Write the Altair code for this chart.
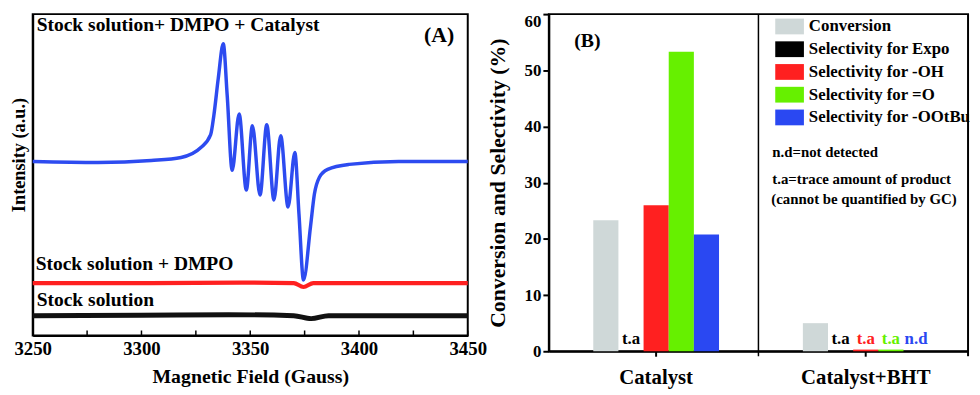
import altair as alt
import pandas as pd

FONT = "Liberation Serif"

# ---------------- Panel A: EPR spectra ----------------
a_names = ["Stock solution+ DMPO + Catalyst", "Stock solution + DMPO", "Stock solution"]
a_colors = ["#2d4bf0", "#ff2020", "#111111"]
a_widths = [3.5, 5, 5]

blue_field = [3250, 3280, 3304.5, 3318.2, 3327.3, 3331.8, 3333.3, 3335.3, 3337.6, 3339.4,
              3341.7, 3344.9, 3348.2, 3351.0, 3354.5, 3357.6, 3360.9, 3364.0, 3367.4, 3370.5,
              3372.4, 3374.5, 3377.7, 3379.5, 3381.8, 3385.6, 3395.5, 3418.2, 3450]
blue_int = [176, 175, 177, 180, 190, 203, 223, 260, 295, 243,
            167, 224, 147, 212, 142, 213, 137, 202, 130, 185,
            123, 56, 110, 143, 160, 168, 173, 176, 176]

red_field = [3250, 3300, 3350, 3370, 3374.5, 3379, 3400, 3450]
red_int = [53, 53, 53.5, 53, 49, 53, 53, 53]

black_field = [3250, 3300, 3340, 3370, 3378, 3386, 3420, 3450]
black_int = [20, 20.5, 21, 20, 17, 20, 20, 20]

a_ticks = [3250, 3300, 3350, 3400, 3450]
a_minor = [3250, 3275, 3300, 3325, 3350, 3375, 3400, 3425, 3450]

rows = []
for name, xs, ys in zip(a_names, [blue_field, red_field, black_field], [blue_int, red_int, black_int]):
    for xv, yv in zip(xs, ys):
        rows.append({"series": name, "field": xv, "intensity": yv})
dfA = pd.DataFrame(rows)

WA, HA = 440, 325

xscaleA = alt.Scale(domain=[3250, 3450], nice=False, zero=False)
xA = alt.X("field:Q", scale=xscaleA,
           axis=alt.Axis(values=a_ticks, format="d", tickSize=0, labelPadding=4,
                         labelFlush=False,
                         labelFont=FONT, labelFontWeight="bold", labelFontSize=19,
                         title="Magnetic Field (Gauss)", titleFont=FONT,
                         titleFontSize=20, titlePadding=9))
yA = alt.Y("intensity:Q", scale=alt.Scale(domain=[0, HA], nice=False),
           axis=alt.Axis(labels=False, ticks=False, title="Intensity (a.u.)",
                         titleFont=FONT, titlePadding=4, titleFontSize=18.5, titleY=142))

lines = alt.Chart(dfA).mark_line(interpolate="monotone").encode(
    x=xA, y=yA,
    color=alt.Color("series:N", sort=a_names, scale=alt.Scale(domain=a_names, range=a_colors), legend=None),
    strokeWidth=alt.StrokeWidth("series:N", scale=alt.Scale(domain=a_names, range=a_widths), legend=None),
    detail="series:N",
)

minor_ticks = alt.Chart(pd.DataFrame({"field": a_minor})).mark_rule(
    color="black", strokeWidth=1.5
).encode(x=alt.X("field:Q", scale=xscaleA), y=alt.value(HA - 5), y2=alt.value(HA))


def label(text, x, y, size=18, align="left", color="black"):
    return alt.Chart(pd.DataFrame({"t": [text]})).mark_text(
        align=align, baseline="middle", font=FONT, fontWeight="bold",
        fontSize=size, color=color
    ).encode(x=alt.value(x), y=alt.value(y), text="t:N")


panelA = alt.layer(
    lines, minor_ticks,
    label("Stock solution+ DMPO + Catalyst", 4, 11, 19.7),
    label("(A)", 411, 21, 22, align="center"),
    label("Stock solution + DMPO", 3, 253, 19.7),
    label("Stock solution", 4, 289, 19.7),
).properties(width=WA, height=HA)

# ---------------- Panel B: bars ----------------
cats = ["Catalyst", "Catalyst+BHT"]
series = ["Conversion", "Selectivity for Expo", "Selectivity for -OH",
          "Selectivity for =O", "Selectivity for -OOtBu"]
b_colors = ["#cfd8d8", "#000000", "#ff2020", "#66f000", "#2a48f2"]
vals_catalyst = [23.3, 0, 26.0, 53.3, 20.8]
vals_bht = [5.0, 0, 0.3, 0.3, 0]
notes_catalyst = ["", "t.a", "", "", ""]
notes_bht = ["", "t.a", "t.a", "t.a", "n.d"]

brows = []
for c, vals, notes in zip(cats, [vals_catalyst, vals_bht], [notes_catalyst, notes_bht]):
    for s, v, n in zip(series, vals, notes):
        brows.append({"cat": c, "series": s, "value": v, "note": n})
dfB = pd.DataFrame(brows)

WB, HB = 424, 341

xB = alt.X("cat:N", sort=cats, scale=alt.Scale(paddingInner=0.4, paddingOuter=0.2, align=0.53),
           axis=alt.Axis(title=None, labelAngle=0, labelFont=FONT, labelFontWeight="bold",
                         labelFontSize=21, tickSize=5, labelPadding=11))
xoffB = alt.XOffset("series:N", sort=series, scale=alt.Scale(paddingInner=0, paddingOuter=0))
yB = alt.Y("value:Q", scale=alt.Scale(domain=[0, 60], nice=False),
           axis=alt.Axis(values=list(range(0, 61, 5)),
                         labelExpr="datum.value % 10 == 0 ? datum.label : ''",
                         tickSize={"condition": {"test": "datum.value % 10 == 0", "value": 6}, "value": 3},
                         labelBaseline={"condition": {"test": "datum.value == 60", "value": "top"}, "value": "middle"},
                         labelFont=FONT, labelFontWeight="bold",
                         labelFontSize=17, labelPadding=2,
                         title="Conversion and Selectivity (%)", titleFont=FONT,
                         titleFontSize=22, titlePadding=15))
colorB = alt.Color("series:N", sort=series, scale=alt.Scale(domain=series, range=b_colors),
                   legend=alt.Legend(orient="none", legendX=229, legendY=-2, title=None,
                                     symbolType="M-1,-0.55H1V0.55H-1Z", symbolSize=841,
                                     symbolStrokeWidth=0, symbolOpacity=1,
                                     labelFont=FONT, labelFontSize=17, labelFontWeight="bold",
                                     labelColor="black", labelOffset=5, labelLimit=0,
                                     rowPadding=0, padding=0))

bars = alt.Chart(dfB).mark_bar().encode(x=xB, xOffset=xoffB, y=yB, color=colorB)

texts = alt.Chart(dfB).transform_filter("datum.note != ''").mark_text(
    baseline="bottom", dy=-3, font=FONT, fontWeight="bold", fontSize=17
).encode(x=xB, xOffset=xoffB, y=alt.datum(0), text="note:N", color=colorB)

divider = alt.Chart(pd.DataFrame({"d": [0]})).mark_rule(color="black", strokeWidth=1.5).encode(
    x=alt.value(WB / 2), y=alt.value(0), y2=alt.value(HB + 5))
edge_tick = alt.Chart(pd.DataFrame({"d": [0]})).mark_rule(color="black", strokeWidth=2).encode(
    x=alt.value(WB), y=alt.value(HB), y2=alt.value(HB + 5))

panelB = alt.layer(
    bars, texts, divider, edge_tick,
    label("(B)", 39, 27, 20, align="center"),
    label("n.d=not detected", 226, 140, 15),
    label("t.a=trace amount of product", 226, 167, 15),
    label("(cannot be quantified by GC)", 225, 187, 15),
).properties(width=WB, height=HB)

chart = alt.hconcat(panelA, panelB, spacing=82, bounds="flush").resolve_scale(
    color="independent", strokeWidth="independent"
).resolve_legend(color="independent", strokeWidth="independent").properties(
    padding={"left": 1, "top": 1, "right": 0, "bottom": 0}
).configure_view(stroke="black", strokeWidth=2).configure_axis(
    domainColor="black", domainWidth=2, tickColor="black", tickWidth=2,
    labelFont=FONT, labelFontWeight="bold", labelColor="black",
    titleFont=FONT, titleFontWeight="bold", titleColor="black", grid=False
)

chart.save("out.html", embed_options={"renderer": "svg", "actions": False})
